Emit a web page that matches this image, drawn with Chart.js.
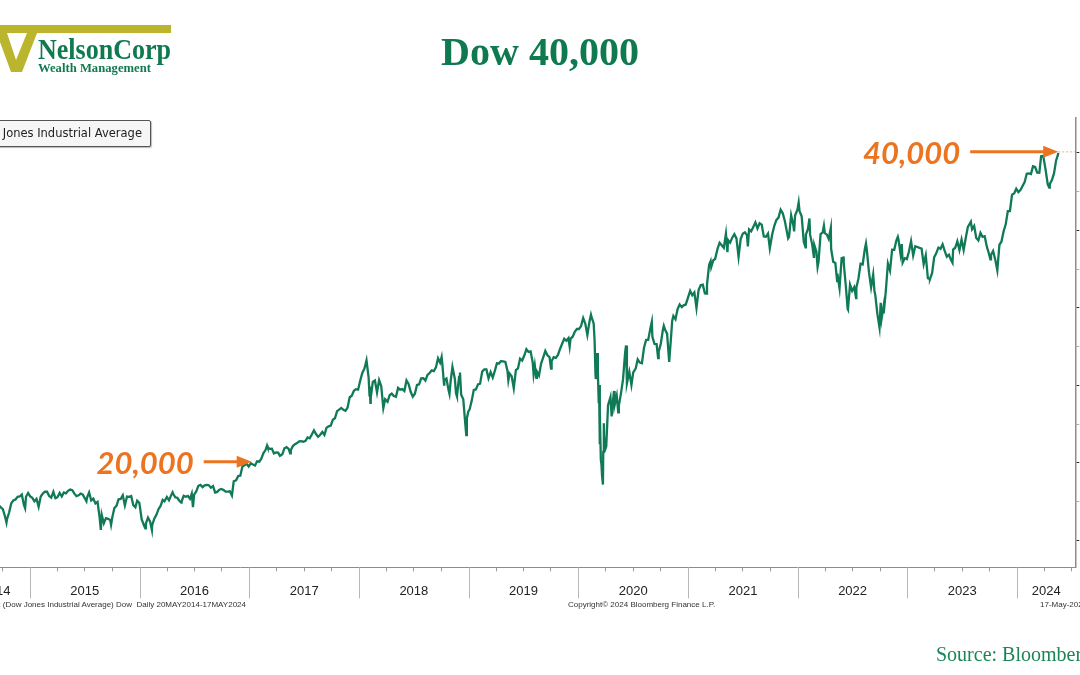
<!DOCTYPE html>
<html>
<head>
<meta charset="utf-8">
<script src="https://cdn.jsdelivr.net/npm/chart.js@4.4.1/dist/chart.umd.min.js"></script>
<style>
  html, body { margin: 0; padding: 0; width: 1080px; height: 675px; overflow: hidden; background: #fff; }
  body { position: relative; }
  #wrap { position: absolute; left: -60px; top: 0; width: 1144px; height: 675px; }
  #title { position: absolute; left: 0; top: 28px; width: 1080px; text-align: center;
           font: bold 40px "Liberation Serif", serif; color: #0f7a4f; }
  #source { position: absolute; left: 936px; top: 643px; white-space: nowrap;
            font: 20px "Liberation Serif", serif; color: #1a8556; }
  #logo { position: absolute; left: 0; top: 0; }
  #legend { position: absolute; left: -60px; top: 120px; width: 209px; height: 25px;
            border: 1px solid #555; border-radius: 2px; background: #f6f6f6;
            box-shadow: 1px 1px 1px #bbb; font: 11.5px "DejaVu Sans", sans-serif; color: #222;
            line-height: 25px; text-align: right; }
  #legend span { margin-right: 8px; }
  .small { position: absolute; top: 600px; font: 8px "Liberation Sans", sans-serif; color: #333; white-space: nowrap; }
  #err { position: absolute; left: 300px; top: 300px; color: red; font: 20px sans-serif; }
</style>
</head>
<body>
<div id="wrap"><canvas id="chart"></canvas></div>

<svg id="logo" width="180" height="80">
  <rect x="0" y="25" width="171" height="8" fill="#bab52c"/>
  <polygon points="0,33 7,33 16,60 27,33 37,33 22,72 11,72 0,42" fill="#bab52c"/>
  <text x="38" y="59" font-family="Liberation Serif" font-weight="bold" font-size="29"
        fill="#0f7a4f" textLength="133" lengthAdjust="spacingAndGlyphs">NelsonCorp</text>
  <text x="38" y="72" font-family="Liberation Serif" font-weight="bold" font-size="13"
        fill="#0f7a4f" textLength="113" lengthAdjust="spacingAndGlyphs">Wealth Management</text>
</svg>

<div id="title">Dow 40,000</div>
<div id="legend"><span>Dow Jones Industrial Average</span></div>

<div class="small" style="right:834px">INDU Index (Dow Jones Industrial Average) Dow&nbsp; Daily 20MAY2014-17MAY2024</div>
<div class="small" style="left:568px">Copyright&copy; 2024 Bloomberg Finance L.P.</div>
<div class="small" style="left:1040px">17-May-2024</div>
<div id="source">Source: Bloomberg</div>
<div id="err"></div>

<script>
// weekly-ish closes
const dates = [
  '2014-05-20','2014-05-23','2014-05-30','2014-06-06','2014-06-13','2014-06-20','2014-06-27','2014-07-03','2014-07-11','2014-07-18','2014-07-25','2014-08-01','2014-08-08','2014-08-15','2014-08-22','2014-08-29','2014-09-05','2014-09-12','2014-09-19','2014-09-26','2014-10-03','2014-10-10','2014-10-15','2014-10-17','2014-10-24','2014-10-31','2014-11-07','2014-11-14','2014-11-21','2014-11-28','2014-12-05','2014-12-12','2014-12-16','2014-12-19','2014-12-26',
  '2015-01-02','2015-01-09','2015-01-16','2015-01-23','2015-01-30','2015-02-06','2015-02-13','2015-02-20','2015-02-27','2015-03-06','2015-03-13','2015-03-20','2015-03-27','2015-04-02','2015-04-10','2015-04-17','2015-04-24','2015-05-01','2015-05-08','2015-05-15','2015-05-22','2015-05-29','2015-06-05','2015-06-12','2015-06-19','2015-06-26','2015-07-02','2015-07-08','2015-07-10','2015-07-17','2015-07-24','2015-07-31','2015-08-07','2015-08-14','2015-08-21','2015-08-24','2015-08-25','2015-08-28','2015-09-04','2015-09-11','2015-09-18','2015-09-25','2015-09-28','2015-10-02','2015-10-09','2015-10-16','2015-10-23','2015-10-30','2015-11-06','2015-11-13','2015-11-20','2015-11-27','2015-12-04','2015-12-11','2015-12-18','2015-12-24','2015-12-31',
  '2016-01-08','2016-01-15','2016-01-20','2016-01-22','2016-01-29','2016-02-05','2016-02-11','2016-02-12','2016-02-19','2016-02-26','2016-03-04','2016-03-11','2016-03-18','2016-03-24','2016-04-01','2016-04-08','2016-04-15','2016-04-20','2016-04-22','2016-04-29','2016-05-06','2016-05-13','2016-05-19','2016-05-20','2016-05-27','2016-06-03','2016-06-10','2016-06-17','2016-06-23','2016-06-27','2016-07-01','2016-07-08','2016-07-15','2016-07-22','2016-07-29','2016-08-05','2016-08-12','2016-08-19','2016-08-26','2016-09-02','2016-09-09','2016-09-16','2016-09-23','2016-09-30','2016-10-07','2016-10-14','2016-10-21','2016-10-28','2016-11-04','2016-11-10','2016-11-18','2016-11-25','2016-12-02','2016-12-09','2016-12-16','2016-12-23','2016-12-30',
  '2017-01-06','2017-01-13','2017-01-20','2017-01-27','2017-02-03','2017-02-10','2017-02-17','2017-02-24','2017-03-01','2017-03-03','2017-03-10','2017-03-17','2017-03-24','2017-03-31','2017-04-07','2017-04-13','2017-04-21','2017-04-28','2017-05-05','2017-05-12','2017-05-17','2017-05-19','2017-05-26','2017-06-02','2017-06-09','2017-06-16','2017-06-23','2017-06-30','2017-07-07','2017-07-14','2017-07-21','2017-07-28','2017-08-04','2017-08-11','2017-08-18','2017-08-25','2017-09-01','2017-09-08','2017-09-15','2017-09-22','2017-09-29','2017-10-06','2017-10-13','2017-10-20','2017-10-27','2017-11-03','2017-11-10','2017-11-17','2017-11-24','2017-12-01','2017-12-08','2017-12-15','2017-12-22','2017-12-29',
  '2018-01-05','2018-01-12','2018-01-19','2018-01-26','2018-02-02','2018-02-05','2018-02-06','2018-02-08','2018-02-09','2018-02-16','2018-02-23','2018-03-02','2018-03-09','2018-03-16','2018-03-23','2018-03-29','2018-04-06','2018-04-13','2018-04-20','2018-04-27','2018-05-04','2018-05-11','2018-05-18','2018-05-25','2018-06-01','2018-06-08','2018-06-15','2018-06-22','2018-06-29','2018-07-06','2018-07-13','2018-07-20','2018-07-27','2018-08-03','2018-08-10','2018-08-17','2018-08-24','2018-08-31','2018-09-07','2018-09-14','2018-09-21','2018-09-28','2018-10-03','2018-10-05','2018-10-11','2018-10-12','2018-10-19','2018-10-26','2018-10-29','2018-11-02','2018-11-08','2018-11-16','2018-11-20','2018-11-23','2018-11-30','2018-12-03','2018-12-07','2018-12-14','2018-12-21','2018-12-24','2018-12-26','2018-12-31',
  '2019-01-04','2019-01-11','2019-01-18','2019-01-25','2019-02-01','2019-02-08','2019-02-15','2019-02-22','2019-03-01','2019-03-08','2019-03-15','2019-03-22','2019-03-29','2019-04-05','2019-04-12','2019-04-18','2019-04-26','2019-05-03','2019-05-10','2019-05-13','2019-05-17','2019-05-24','2019-05-31','2019-06-07','2019-06-14','2019-06-21','2019-06-28','2019-07-05','2019-07-12','2019-07-19','2019-07-26','2019-08-02','2019-08-05','2019-08-09','2019-08-14','2019-08-16','2019-08-23','2019-08-30','2019-09-06','2019-09-13','2019-09-20','2019-09-27','2019-10-02','2019-10-04','2019-10-11','2019-10-18','2019-10-25','2019-11-01','2019-11-08','2019-11-15','2019-11-22','2019-11-29','2019-12-03','2019-12-06','2019-12-13','2019-12-20','2019-12-27',
  '2020-01-03','2020-01-10','2020-01-17','2020-01-24','2020-01-31','2020-02-07','2020-02-12','2020-02-14','2020-02-21','2020-02-24','2020-02-27','2020-02-28','2020-03-03','2020-03-04','2020-03-06','2020-03-09','2020-03-10','2020-03-12','2020-03-13','2020-03-16','2020-03-18','2020-03-20','2020-03-23','2020-03-24','2020-03-26','2020-03-27','2020-04-01','2020-04-03','2020-04-09','2020-04-17','2020-04-21','2020-04-24','2020-04-29','2020-05-01','2020-05-08','2020-05-13','2020-05-15','2020-05-22','2020-05-29','2020-06-05','2020-06-08','2020-06-11','2020-06-19','2020-06-26','2020-07-02','2020-07-10','2020-07-17','2020-07-24','2020-07-31','2020-08-07','2020-08-14','2020-08-21','2020-08-28','2020-09-02','2020-09-04','2020-09-11','2020-09-18','2020-09-23','2020-09-25','2020-10-02','2020-10-09','2020-10-12','2020-10-16','2020-10-23','2020-10-30','2020-11-06','2020-11-09','2020-11-13','2020-11-20','2020-11-27','2020-12-04','2020-12-11','2020-12-18','2020-12-24','2020-12-31',
  '2021-01-08','2021-01-15','2021-01-22','2021-01-29','2021-02-05','2021-02-12','2021-02-19','2021-02-26','2021-03-04','2021-03-05','2021-03-12','2021-03-17','2021-03-19','2021-03-26','2021-04-01','2021-04-09','2021-04-16','2021-04-23','2021-04-30','2021-05-07','2021-05-12','2021-05-14','2021-05-21','2021-05-28','2021-06-04','2021-06-11','2021-06-18','2021-06-25','2021-07-02','2021-07-09','2021-07-16','2021-07-19','2021-07-23','2021-07-30','2021-08-06','2021-08-13','2021-08-20','2021-08-27','2021-09-03','2021-09-10','2021-09-17','2021-09-24','2021-09-30','2021-10-08','2021-10-15','2021-10-22','2021-10-29','2021-11-05','2021-11-12','2021-11-19','2021-11-26','2021-11-30','2021-12-03','2021-12-10','2021-12-17','2021-12-20','2021-12-23','2021-12-31',
  '2022-01-04','2022-01-07','2022-01-14','2022-01-21','2022-01-27','2022-01-28','2022-02-04','2022-02-09','2022-02-11','2022-02-18','2022-02-24','2022-02-25','2022-03-04','2022-03-08','2022-03-11','2022-03-18','2022-03-25','2022-03-29','2022-04-01','2022-04-08','2022-04-14','2022-04-21','2022-04-22','2022-04-29','2022-05-06','2022-05-12','2022-05-13','2022-05-20','2022-05-27','2022-06-02','2022-06-03','2022-06-10','2022-06-16','2022-06-17','2022-06-24','2022-07-01','2022-07-08','2022-07-14','2022-07-15','2022-07-22','2022-07-29','2022-08-05','2022-08-12','2022-08-16','2022-08-19','2022-08-26','2022-09-02','2022-09-09','2022-09-13','2022-09-16','2022-09-23','2022-09-30','2022-10-04','2022-10-07','2022-10-13','2022-10-14','2022-10-21','2022-10-28','2022-11-04','2022-11-11','2022-11-18','2022-11-25','2022-11-30','2022-12-02','2022-12-09','2022-12-13','2022-12-16','2022-12-23','2022-12-30',
  '2023-01-06','2023-01-13','2023-01-20','2023-01-27','2023-02-03','2023-02-10','2023-02-17','2023-02-24','2023-03-03','2023-03-10','2023-03-15','2023-03-17','2023-03-24','2023-03-31','2023-04-06','2023-04-14','2023-04-21','2023-04-28','2023-05-05','2023-05-12','2023-05-19','2023-05-26','2023-05-31','2023-06-02','2023-06-09','2023-06-16','2023-06-23','2023-06-30','2023-07-07','2023-07-14','2023-07-21','2023-07-28','2023-07-31','2023-08-04','2023-08-11','2023-08-18','2023-08-25','2023-09-01','2023-09-08','2023-09-15','2023-09-22','2023-09-29','2023-10-04','2023-10-06','2023-10-13','2023-10-20','2023-10-27','2023-11-03','2023-11-10','2023-11-17','2023-11-24','2023-12-01','2023-12-08','2023-12-15','2023-12-22','2023-12-29',
  '2024-01-05','2024-01-12','2024-01-19','2024-01-26','2024-02-02','2024-02-09','2024-02-16','2024-02-23','2024-03-01','2024-03-08','2024-03-15','2024-03-21','2024-03-28','2024-04-05','2024-04-12','2024-04-17','2024-04-19','2024-04-26','2024-05-03','2024-05-10','2024-05-16','2024-05-17'
];

const closes = [
  16374,16606,16717,16924,16776,16947,16851,17068,16944,17100,16961,16493,16554,16663,17001,17098,17138,16988,17280,17113,17009,16544,16142,16380,16805,17391,17574,17635,17810,17828,17959,17281,17068,17805,18053,
  17833,17737,17512,17673,17165,17825,18019,18140,18133,17856,17749,18128,17713,17763,18058,17826,18080,18024,18191,18273,18232,18011,17849,17899,18016,17947,17731,17515,17760,18086,17569,17690,17373,17477,16460,15871,15666,16643,16102,16433,16385,16315,16001,16472,17084,17216,17647,17664,17910,17245,17824,17798,17848,17265,17128,17553,17425,
  16346,15988,15766,16094,16466,16205,15660,15974,16392,16640,17007,17213,17602,17516,17793,17577,17898,18096,18004,17774,17741,17535,17435,17501,17873,17807,17866,17675,18011,17140,17949,18147,18517,18571,18432,18543,18576,18552,18395,18492,18085,18124,18262,18308,18240,18138,18146,18161,17888,18807,18868,19152,19171,19757,19843,19934,19763,
  19964,19886,19827,20094,20071,20269,20624,20822,21115,21006,20903,20915,20597,20663,20656,20453,20548,20941,21007,20897,20606,20805,21080,21206,21272,21384,21395,21350,21414,21638,21580,21830,22093,21858,21675,21814,21988,21798,22268,22350,22405,22774,22872,23329,23434,23539,23422,23358,23558,24232,24329,24652,24754,24719,
  25296,25803,26072,26617,25521,24346,24913,23861,24191,25219,25310,24538,25336,24947,23533,24103,23933,24360,24463,24311,24263,24831,24715,24753,24635,25317,25090,24581,24271,24456,25019,25058,25451,25463,25313,25669,25790,25965,25917,26155,26743,26458,26828,26447,25053,25340,25444,24689,24443,25270,26191,25413,24466,24286,25538,25826,24389,24100,22445,21792,22878,23327,
  23433,23996,24706,24737,25064,25106,25883,26031,26026,25450,25849,25502,25929,26425,26412,26559,26543,26505,25942,25324,25764,25586,24815,25984,26090,26720,26600,26922,27332,27154,27192,26485,25718,26287,25479,25886,25629,26403,26797,27220,26935,26820,26078,26573,26817,26770,26958,27347,27681,28005,27876,28051,27503,28015,28135,28455,28645,
  28635,28824,29348,28990,28256,29103,29551,29398,28992,27961,25767,25409,25917,27091,25865,23851,25018,21200,23186,20188,19899,19174,18592,20705,22552,21637,20943,21053,23719,24242,22995,23775,24634,23724,24331,23248,23685,24465,25383,27111,27572,25128,25871,25016,25827,26075,26672,26470,26428,27433,27931,27930,28654,29100,28133,27666,27657,26763,27174,27683,28587,28838,28606,28336,26502,28323,29158,29480,29263,29910,30218,30046,30179,30200,30606,
  31098,30814,30997,29983,31148,31458,31494,30932,30924,31496,32779,33015,32628,33073,33153,33801,34201,34043,33875,34778,33587,34382,34208,34529,34756,34480,33290,34434,34786,34870,34688,33962,35062,34935,35209,35515,35120,35456,35369,34608,34584,34798,33844,34746,35295,35677,35820,36328,36100,35602,34899,34484,34580,35971,35365,34932,35951,36338,
  36800,36232,35912,34265,33907,34725,35090,35768,34738,34079,33223,34059,33615,32633,32944,34755,34862,35294,34818,34721,34451,35161,33811,32977,32899,31730,32197,31262,33213,33248,32900,31393,29927,29889,31501,31097,31338,30630,31289,31899,32845,32803,33761,34152,33707,32283,31318,32152,31105,30822,29590,28725,30317,29297,30039,29635,31083,32861,32403,33748,33746,34347,34590,34430,33477,34108,32920,33204,33147,
  33631,34303,33375,33978,33926,33870,33827,32817,33391,31910,31874,31862,32238,33274,33485,33886,33809,34098,33674,33301,33427,33093,32908,33763,33877,34299,33727,34408,33734,34509,35228,35460,35560,35066,35281,34500,34346,34838,34577,34618,33964,33508,33129,33407,33670,33127,32418,34061,34283,34947,35390,36245,36248,37306,37385,37690,
  37467,37593,37863,38109,38654,38672,38628,39131,39087,38723,38715,39781,39807,38904,37983,37753,37986,38240,38676,39513,39869,40004
];

const yearLabels = ['2014','2015','2016','2017','2018','2019','2020','2021','2022','2023','2024'];

const calloutText = ['20,000', '40,000'];
const calloutDates = ['2017-01-09', '2024-05-17'];
const calloutValues = [20000, 40000];

if (dates.length !== closes.length) {
  document.getElementById('err').textContent = 'length mismatch ' + dates.length + ' / ' + closes.length;
}

// date string -> fractional year, so a linear x axis can be used
function toYear(s) {
  const d = new Date(s + 'T00:00:00Z');
  const y = d.getUTCFullYear();
  const a = Date.UTC(y, 0, 1), b = Date.UTC(y + 1, 0, 1);
  return y + (d.getTime() - a) / (b - a);
}

const GREEN = '#0f7a55';
const ORANGE = '#ec7420';
const X_MIN = toYear(dates[0]);
const X_MAX = 2024.53;

// year label sits in the middle of the visible part of each year
const labelPos = yearLabels.map((lab, i) => {
  const a = Math.max(2014 + i, X_MIN), b = Math.min(2015 + i, X_MAX);
  return (a + b) / 2;
});

const calloutPlugin = {
  id: 'callouts',
  afterDatasetsDraw(chart) {
    const { ctx, chartArea, scales: { x, y } } = chart;
    const shaft = [48, 88];
    ctx.save();
    calloutText.forEach((txt, i) => {
      const tx = x.getPixelForValue(toYear(calloutDates[i]));
      const ty = y.getPixelForValue(calloutValues[i]) - 1;
      const start = tx - shaft[i];
      ctx.strokeStyle = ORANGE;
      ctx.fillStyle = ORANGE;
      ctx.lineWidth = 3;
      ctx.beginPath();
      ctx.moveTo(start, ty);
      ctx.lineTo(tx - 12, ty);
      ctx.stroke();
      ctx.beginPath();
      ctx.moveTo(tx, ty);
      ctx.lineTo(tx - 15, ty - 6);
      ctx.lineTo(tx - 15, ty + 6);
      ctx.closePath();
      ctx.fill();
      if (i === calloutText.length - 1) {
        ctx.lineWidth = 1;
        ctx.setLineDash([2, 2]);
        ctx.strokeStyle = 'rgba(236,116,32,0.6)';
        ctx.beginPath();
        ctx.moveTo(tx, ty);
        ctx.lineTo(chartArea.right, ty);
        ctx.stroke();
        ctx.setLineDash([]);
      }
      ctx.font = 'italic bold 31px Lato, "Open Sans", sans-serif';
      ctx.textAlign = 'right';
      ctx.textBaseline = 'middle';
      ctx.fillText(txt, start - 10, ty + 2);
    });
    ctx.restore();
  },
  afterDraw(chart) {
    // long year separators below the date axis
    const { ctx, chartArea, scales: { x } } = chart;
    ctx.save();
    ctx.strokeStyle = '#b8b8b8';
    ctx.lineWidth = 1;
    for (let yr = 2015; yr <= 2024; yr++) {
      const px = Math.round(x.getPixelForValue(yr)) + 0.5;
      ctx.beginPath();
      ctx.moveTo(px, chartArea.bottom);
      ctx.lineTo(px, chartArea.bottom + 31);
      ctx.stroke();
    }
    ctx.restore();
  }
};

const ctx = document.getElementById('chart').getContext('2d');

new Chart(ctx, {
  type: 'line',
  plugins: [calloutPlugin],
  data: {
    datasets: [{
      label: 'Dow Jones Industrial Average',
      data: dates.map((d, i) => ({ x: toYear(d), y: closes[i] })),
      borderColor: GREEN,
      borderWidth: 2.3,
      pointRadius: 0,
      tension: 0
    }]
  },
  options: {
    responsive: true,
    maintainAspectRatio: false,
    animation: false,
    layout: { padding: { top: 118, left: 22, right: 1, bottom: 64 } },
    plugins: {
      legend: { display: false },
      tooltip: { enabled: false }
    },
    scales: {
      x: {
        type: 'linear',
        min: X_MIN,
        max: X_MAX,
        afterBuildTicks: (s) => {
          const vals = [];
          for (let yr = 2014; yr <= 2024; yr++) {
            [0, 0.25, 0.5, 0.75].forEach(q => {
              const v = yr + q;
              if (v > s.min && v < s.max) vals.push(v);
            });
          }
          labelPos.forEach(v => { if (!vals.includes(v)) vals.push(v); });
          vals.sort((p, q) => p - q);
          s.ticks = vals.map(v => ({ value: v }));
        },
        ticks: {
          autoSkip: false,
          maxRotation: 0,
          padding: 12,
          color: '#222',
          font: { family: '"Liberation Sans", sans-serif', size: 13 },
          callback: (v) => {
            const i = Math.floor(v) - 2014;
            return Math.abs(labelPos[i] - v) < 1e-6 ? yearLabels[i] : '';
          }
        },
        grid: {
          drawOnChartArea: false,
          tickLength: 4,
          color: (c) => {
            const v = c.tick.value;
            if (Number.isInteger(v)) return 'rgba(0,0,0,0)';
            return Number.isInteger(v * 4) ? '#9a9a9a' : 'rgba(0,0,0,0)';
          }
        },
        border: { display: true, color: '#8c8c8c', width: 1 }
      },
      y: {
        position: 'right',
        min: 13250,
        max: 42250,
        afterBuildTicks: (s) => {
          const t = [];
          for (let v = 15000; v <= 40000; v += 2500) t.push({ value: v });
          s.ticks = t;
        },
        ticks: { display: false },
        grid: {
          drawOnChartArea: false,
          tickLength: 4,
          color: (c) => c.tick.value % 5000 === 0 ? '#222' : '#aaa'
        },
        border: { display: true, color: '#8c8c8c', width: 1.5 }
      }
    }
  }
});
</script>
</body>
</html>
